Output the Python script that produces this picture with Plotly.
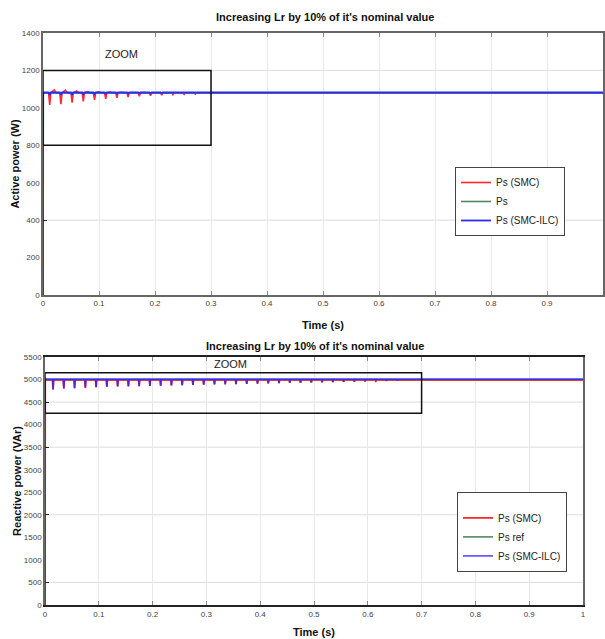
import plotly.graph_objects as go

# ---------------- data ----------------
# Top chart: Active power (W)
top_base_ref = 1080
top_base_smc = 1080
top_base_ilc = 1082
top_dip_t = [0.012, 0.032, 0.052, 0.072, 0.092, 0.112, 0.132, 0.152,
             0.172, 0.192, 0.212, 0.232, 0.252, 0.272, 0.292]
top_smc_dip = [1015, 1020, 1028, 1035, 1042, 1048, 1053, 1058,
               1062, 1065, 1068, 1070, 1072, 1074, 1076]
top_smc_peak = [1096, 1095, 1090, 1087, 1085, 1084, 1083, 1082,
                1082, 1081, 1081, 1081, 1080, 1080, 1080]
top_ilc_dip = [1068, 1070, 1072, 1073, 1074, 1075, 1076, 1076,
               1077, 1077, 1078, 1078, 1078, 1079, 1079]

# Bottom chart: Reactive power (VAr)
bot_base_ref = 5000
bot_base_smc = 4985
bot_base_ilc = 5010
bot_dip_t = [0.015, 0.035, 0.055, 0.075, 0.095, 0.115, 0.135, 0.155, 0.175,
             0.195, 0.215, 0.235, 0.255, 0.275, 0.295, 0.315, 0.335, 0.355,
             0.375, 0.395, 0.415, 0.435, 0.455, 0.475, 0.495, 0.515, 0.535,
             0.555, 0.575, 0.595, 0.615, 0.635, 0.655]
bot_dip = [4780, 4800, 4810, 4820, 4830, 4840, 4845, 4850, 4855, 4860,
           4865, 4870, 4875, 4880, 4885, 4890, 4895, 4900, 4905, 4910,
           4915, 4920, 4925, 4930, 4935, 4940, 4945, 4950, 4955, 4960,
           4965, 4970, 4975]

t_end = 1.0
x_ticks = [0, 0.1, 0.2, 0.3, 0.4, 0.5, 0.6, 0.7, 0.8, 0.9, 1]
x_ticklabels = ["0", "0.1", "0.2", "0.3", "0.4", "0.5", "0.6", "0.7", "0.8", "0.9", "1"]
top_y_ticks = [0, 200, 400, 600, 800, 1000, 1200, 1400]
top_y_grid = [400, 1200]
bot_y_ticks = [0, 500, 1000, 1500, 2000, 2500, 3000, 3500, 4000, 4500, 5000, 5500]
bot_y_grid = [500, 2000, 3500, 4500]

title_text = "Increasing Lr by 10% of it's nominal value"


def build(base, dip_t, dips, peaks=None, w=0.002):
    t = [0, 0.0004]
    p = [0, base]
    for i, td in enumerate(dip_t):
        t += [td - w, td, td + w]
        p += [base, dips[i], base]
        if peaks is not None:
            t += [td + 0.008, td + 0.012]
            p += [peaks[i], base]
    t.append(t_end)
    p.append(base)
    return t, p


RED = "#ff2a2a"
GREEN = "#4f8a60"
BLUE = "#2a2aff"

fig = go.Figure()

# ---- top chart traces ----
t, p = build(top_base_smc, top_dip_t, top_smc_dip, top_smc_peak)
fig.add_trace(go.Scatter(x=t, y=p, mode="lines", name="Ps (SMC)",
                         line=dict(color=RED, width=1.6), xaxis="x", yaxis="y", legend="legend"))
fig.add_trace(go.Scatter(x=[0, 0.0004, t_end], y=[0, top_base_ref, top_base_ref], mode="lines", name="Ps",
                         line=dict(color=GREEN, width=1.6), xaxis="x", yaxis="y", legend="legend"))
t, p = build(top_base_ilc, top_dip_t, top_ilc_dip)
fig.add_trace(go.Scatter(x=t, y=p, mode="lines", name="Ps (SMC-ILC)",
                         line=dict(color=BLUE, width=1.8), xaxis="x", yaxis="y", legend="legend"))

# ---- bottom chart traces ----
t, p = build(bot_base_smc, bot_dip_t, bot_dip, w=0.001)
fig.add_trace(go.Scatter(x=t, y=p, mode="lines", name="Ps (SMC)",
                         line=dict(color=RED, width=1.8), xaxis="x2", yaxis="y2", legend="legend2"))
fig.add_trace(go.Scatter(x=[0, 0.0004, t_end], y=[0, bot_base_ref, bot_base_ref], mode="lines", name="Ps ref",
                         line=dict(color=GREEN, width=1.6), xaxis="x2", yaxis="y2", legend="legend2"))
t, p = build(bot_base_ilc, bot_dip_t, bot_dip, w=0.001)
fig.add_trace(go.Scatter(x=t, y=p, mode="lines", name="Ps (SMC-ILC)",
                         line=dict(color="rgba(50,30,255,0.8)", width=1.6), xaxis="x2", yaxis="y2", legend="legend2"))

W, H = 605, 639
def px(v): return v / W
def py(v): return 1 - v / H

tickfont = dict(family="Liberation Sans", size=8, color="#444444")
axis_common = dict(showgrid=True, gridcolor="#e8e8e8", gridwidth=1, zeroline=False,
                   ticks="inside", ticklen=4, tickcolor="#888888", tickfont=tickfont,
                   automargin=False)

grid_shapes = []
for v in top_y_grid:
    grid_shapes.append(dict(type="line", xref="x domain", yref="y", x0=0, x1=1, y0=v, y1=v,
                            line=dict(color="#dddddd", width=1), layer="below"))
for v in bot_y_grid:
    grid_shapes.append(dict(type="line", xref="x2 domain", yref="y2", x0=0, x1=1, y0=v, y1=v,
                            line=dict(color="#dddddd", width=1), layer="below"))

fig.update_layout(
    width=W, height=H, autosize=False,
    margin=dict(l=0, r=0, t=0, b=0),
    paper_bgcolor="white", plot_bgcolor="white",
    font=dict(family="Liberation Sans", color="#111111"),
    xaxis=dict(domain=[px(43), px(603)], anchor="y", range=[0, 1],
               tickvals=x_ticks, ticktext=x_ticklabels,
               showline=True, linecolor="#666666", linewidth=1.5, mirror="ticks",
               title=dict(text="<b>Time (s)</b>", font=dict(size=11), standoff=14), **axis_common),
    yaxis=dict(domain=[py(295), py(33)], anchor="x", range=[0, 1400],
               tickvals=top_y_ticks, showgrid=False, zeroline=False, automargin=False,
               ticks="", tickfont=tickfont,
               minor=dict(tickmode="array", tickvals=top_y_grid, showgrid=False,
                          ticks="inside", ticklen=4, tickcolor="#222222"),
               showline=True, linecolor="#666666", linewidth=1.5, mirror=True,
               title=dict(text="<b>Active power (W)</b>", font=dict(size=11), standoff=0)),
    xaxis2=dict(domain=[px(45), px(583)], anchor="y2", range=[0, 1],
                tickvals=x_ticks, ticktext=x_ticklabels,
                showline=True, linecolor="#222222", linewidth=2, mirror="ticks",
                title=dict(text="<b>Time (s)</b>", font=dict(size=11), standoff=11), **axis_common),
    yaxis2=dict(domain=[py(605), py(357)], anchor="x2", range=[0, 5500],
                tickvals=bot_y_ticks, showgrid=False, zeroline=False, automargin=False,
                ticks="", tickfont=tickfont,
                minor=dict(tickmode="array", tickvals=bot_y_grid, showgrid=False,
                           ticks="inside", ticklen=4, tickcolor="#222222"),
                showline=True, linecolor="#666666", linewidth=1.5, mirror=True,
                title=dict(text="<b>Reactive power (VAr)</b>", font=dict(size=11), standoff=0)),
    legend=dict(x=px(455), y=py(167), xanchor="left", yanchor="top",
                bgcolor="white", bordercolor="#444444", borderwidth=1,
                font=dict(family="Liberation Sans Narrow, Liberation Sans", size=10, color="#222222"),
                tracegroupgap=0, itemwidth=30),
    legend2=dict(x=px(457), y=py(492), xanchor="left", yanchor="top",
                 bgcolor="white", bordercolor="#444444", borderwidth=1,
                 title=dict(text=" ", font=dict(size=8)),
                 font=dict(family="Liberation Sans Narrow, Liberation Sans", size=10, color="#222222"),
                 tracegroupgap=0, itemwidth=30),
    showlegend=True,
    shapes=grid_shapes + [
        dict(type="rect", xref="x", yref="y", x0=0, x1=0.3, y0=800, y1=1200,
             line=dict(color="#111111", width=1.5), fillcolor="rgba(0,0,0,0)"),
        dict(type="rect", xref="x2", yref="y2", x0=0, x1=0.7, y0=4250, y1=5150,
             line=dict(color="#111111", width=1.5), fillcolor="rgba(0,0,0,0)"),
    ],
    annotations=[
        dict(text="<b>" + title_text + "</b>", x=px(325), y=py(17), xref="paper", yref="paper",
             xanchor="center", yanchor="middle", showarrow=False,
             font=dict(family="Liberation Sans Narrow, Liberation Sans", size=11, color="#111111")),
        dict(text="<b>" + title_text + "</b>", x=px(315), y=py(346), xref="paper", yref="paper",
             xanchor="center", yanchor="middle", showarrow=False,
             font=dict(family="Liberation Sans Narrow, Liberation Sans", size=11, color="#111111")),
        dict(text="ZOOM", x=0.14, y=1290, xref="x", yref="y", showarrow=False,
             font=dict(size=11, color="#222222")),
        dict(text="ZOOM", x=0.345, y=5340, xref="x2", yref="y2", showarrow=False,
             font=dict(size=11, color="#222222")),
    ],
)

fig.write_html("out.html", config={"displayModeBar": False},
               post_script="document.body.style.margin='0';document.body.style.overflow='hidden';")
